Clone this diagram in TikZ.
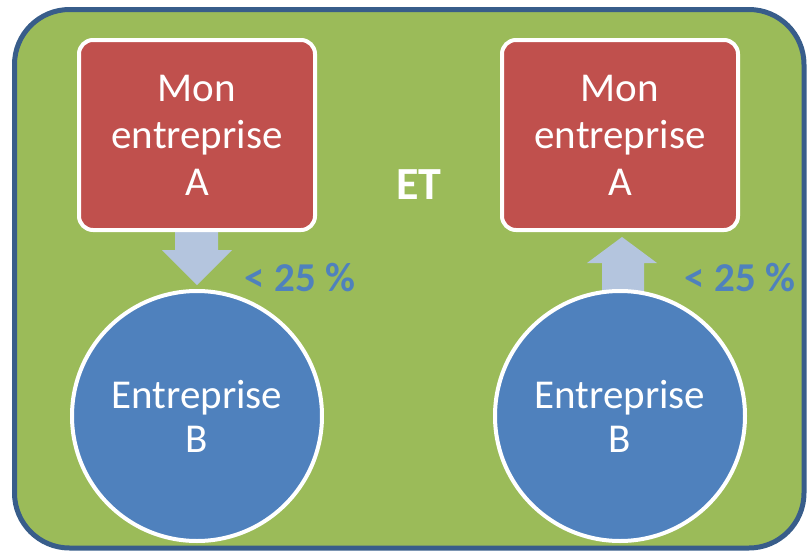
\documentclass[tikz,border=0pt]{standalone}
\usepackage{fontspec}
\setmainfont{Carlito}
\definecolor{bggreen}{RGB}{155,187,89}
\definecolor{framebl}{RGB}{56,93,138}
\definecolor{boxred}{RGB}{192,80,77}
\definecolor{circbl}{RGB}{79,129,189}
\definecolor{arrbl}{RGB}{180,197,222}
\definecolor{lblbl}{RGB}{79,129,189}
\tikzset{
  redbox/.style={draw=white, line width=4pt, fill=boxred, rounded corners=14pt,
    minimum width=236pt, minimum height=190pt, inner sep=0pt, align=center,
    text=white, font=\fontsize{41}{47}\selectfont},
  bluecirc/.style={circle, draw=white, line width=4pt, fill=circbl,
    minimum size=250pt, inner sep=0pt, align=center, text=white,
    font=\fontsize{41}{44}\selectfont},
  pctlabel/.style={text=lblbl, font=\fontsize{41}{44}\selectfont\bfseries, inner sep=0pt},
  blockarrow/.style={fill=arrbl}
}
\begin{document}
\begin{tikzpicture}[x=1pt,y=-1pt]
\useasboundingbox (0,0) rectangle (807,552);
\draw[fill=bggreen, draw=framebl, line width=5pt, rounded corners=55pt] (14.5,9.5) rectangle (804,548);
% block arrows
\fill[blockarrow] (175,232) -- (218,232) -- (218,250) -- (232,250) -- (197,285) -- (162,250) -- (175,250) -- cycle;
\fill[blockarrow] (602,292) -- (644,292) -- (644,263) -- (657,263) -- (622,237) -- (587,263) -- (602,263) -- cycle;
\node[redbox] (a1) at (197,135) {Mon\\entreprise\\A};
\node[redbox] (a2) at (620,135) {Mon\\entreprise\\A};
\node[bluecirc] (b1) at (197,416) {Entreprise\\B};
\node[bluecirc] (b2) at (620,416) {Entreprise\\B};
\node[pctlabel] (p1) at (300,278) {< 25 \%};
\node[pctlabel] (p2) at (740,278) {< 25 \%};
\node[text=white, font=\fontsize{46}{50}\selectfont\bfseries, inner sep=0pt] (et) at (419,185) {ET};
\end{tikzpicture}
\end{document}
